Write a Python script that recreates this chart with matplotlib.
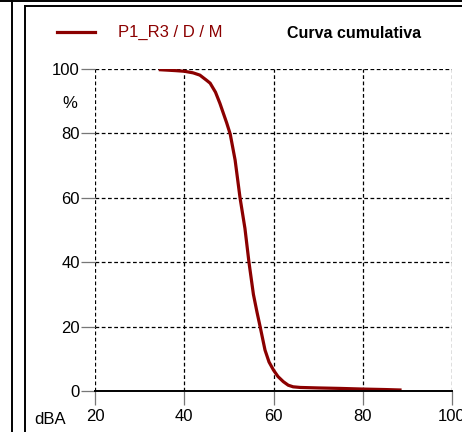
import matplotlib
matplotlib.use("Agg")
import matplotlib.pyplot as plt
from matplotlib.lines import Line2D

plt.rcParams['font.family'] = ['Liberation Sans', 'DejaVu Sans']

# ── Data ──────────────────────────────────────────────────────────────────────
level_dba = [34.3, 38.0, 40.0, 42.0, 43.5, 45.0, 45.8, 47.0, 48.0, 49.5, 50.3,
             51.4, 52.5, 53.6, 54.5, 55.5, 56.3, 57.0, 58.1, 59.0, 60.0, 61.0,
             62.2, 63.3, 64.4, 66.0, 70.0, 75.0, 80.0, 85.0, 88.7]
cumulative = [99.8, 99.5, 99.3, 98.8, 98.1, 96.5, 95.6, 92.8, 89.3, 83.3, 79.8,
              71.7, 60.0, 50.5, 40.0, 30.0, 24.5, 20.0, 12.7, 9.0, 6.5, 4.5,
              2.9, 1.8, 1.3, 1.1, 0.95, 0.8, 0.6, 0.45, 0.3]

x_ticks = [20, 40, 60, 80, 100]
y_ticks = [0, 20, 40, 60, 80, 100]
series_label = "P1_R3 / D / M"
title = "Curva cumulativa"

RED = '#8b0000'

# ── Figure ────────────────────────────────────────────────────────────────────
fig = plt.figure(figsize=(4.62, 4.32), dpi=100)

# panel frames (pixel positions of the reference)
W, H = 462, 432
def fx(p): return p / W
def fy(p): return 1 - p / H
fig.add_artist(Line2D([0, 1], [fy(1), fy(1)], color='k', lw=1.4))
fig.add_artist(Line2D([fx(12), fx(12)], [0, fy(1)], color='k', lw=1.4))
fig.add_artist(Line2D([fx(25), fx(25)], [0, fy(6)], color='k', lw=1.4))
fig.add_artist(Line2D([fx(25), 1], [fy(6), fy(6)], color='k', lw=1.4))

ax = fig.add_axes([fx(95), fy(391), fx(452) - fx(95), fy(69) - fy(391)])
ax.plot(level_dba, cumulative, color=RED, lw=2.3, solid_capstyle='butt',
        solid_joinstyle='round', zorder=3)

ax.set_xlim(20, 100)
ax.set_ylim(0, 100)
ax.set_xticks(x_ticks)
ax.set_yticks(y_ticks)
ax.grid(True, color='k', ls=(0, (3, 2)), lw=0.9)
for s in ['top', 'right', 'left']:
    ax.spines[s].set_visible(False)
ax.spines['bottom'].set_linewidth(1.4)
ax.spines['bottom'].set_zorder(4)
ax.tick_params(axis='both', length=10, width=0.9, color='#777777',
               labelsize=12, pad=1)
ax.tick_params(axis='x', pad=3)

fig.text(fx(70), fy(103), "%", fontsize=12, ha='center', va='center')
fig.text(fx(50), fy(419), "dBA", fontsize=12, ha='center', va='center')

# legend / title
fig.add_artist(Line2D([fx(57), fx(95)], [fy(32), fy(32)], color=RED, lw=2.3))
fig.text(fx(118), fy(32), series_label, color=RED, fontsize=12,
         ha='left', va='center')
fig.text(fx(287), fy(33), title, color='k', fontsize=11.5, fontweight='bold',
         ha='left', va='center')

fig.savefig("out.png", dpi=100)
